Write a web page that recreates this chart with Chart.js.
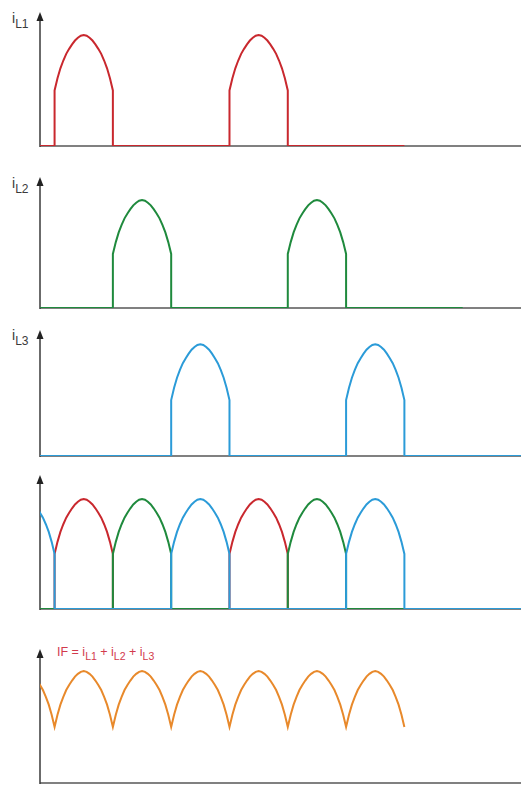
<!DOCTYPE html>
<html>
<head>
<meta charset="utf-8">
<script src="https://cdn.jsdelivr.net/npm/chart.js@4"></script>
<style>
  body { margin: 0; background: #fff; width: 521px; height: 790px; position: relative; overflow: hidden; font-family: "Liberation Sans", Arial, sans-serif; }
  canvas { position: absolute; left: 0; }
  .lbl { position: absolute; color: #3a3a3a; font-size: 14px; line-height: 1; white-space: nowrap; }
  .lbl sub { font-size: 12px; vertical-align: -5px; }
  .sum { color: #d23a4c; font-size: 12.5px; }
  .sum sub { font-size: 10.5px; vertical-align: -4px; }
</style>
</head>
<body>
<div class="lbl" style="left:12px;top:11px">i<sub>L1</sub></div>
<div class="lbl" style="left:12px;top:176px">i<sub>L2</sub></div>
<div class="lbl" style="left:12px;top:328px">i<sub>L3</sub></div>
<div class="lbl sum" style="left:57px;top:646px">IF = i<sub>L1</sub> + i<sub>L2</sub> + i<sub>L3</sub></div>

<canvas id="c1" width="521" height="147" style="top:5px"></canvas>
<canvas id="c2" width="521" height="144" style="top:170px"></canvas>
<canvas id="c3" width="521" height="139" style="top:323px"></canvas>
<canvas id="c4" width="521" height="147" style="top:468px"></canvas>
<canvas id="c5" width="521" height="147" style="top:642px"></canvas>

<script>
// one conduction pulse, read every 6 degrees over its 120 degree window
const arcShape = [0.5, 0.61, 0.70, 0.77, 0.83, 0.875, 0.915, 0.95, 0.975, 0.993, 1,
                  0.993, 0.975, 0.95, 0.915, 0.875, 0.83, 0.77, 0.70, 0.61, 0.5];
const arcStep = 6;

// pulse start angles (degrees) and where each trace stops
const pulsesL1 = [30, 390];
const pulsesL2 = [150, 510];
const pulsesL3 = [270, 630];
const pulsesL3Sum = [-90, 270, 630];
const pulsesIF = [-90, 30, 150, 270, 390, 510, 630];
const endL1 = 750;
const endL2 = 870;
const endL3 = 990;

const xMax = 990;
const red = '#c9282e';
const green = '#1f8a3d';
const blue = '#2b9bd8';
const orange = '#e8892b';

function pulseTrain(starts, end) {
    const pts = [];
    if (starts[0] > 0) pts.push({ x: 0, y: 0 });
    starts.forEach(s => {
        pts.push({ x: s, y: 0 });
        arcShape.forEach((v, i) => pts.push({ x: s + i * arcStep, y: v }));
        pts.push({ x: s + 120, y: 0 });
    });
    pts.push({ x: end, y: 0 });
    return pts;
}

function envelope(starts) {
    const pts = [];
    starts.forEach(s => {
        arcShape.forEach((v, i) => pts.push({ x: s + i * arcStep, y: v }));
    });
    return pts;
}

// y axis with arrow and plain x axis, drawn under the traces
const axesPlugin = {
    id: 'axes',
    beforeDatasetsDraw(chart) {
        const { ctx, chartArea } = chart;
        const x0 = chart.scales.x.getPixelForValue(0);
        const y0 = chart.scales.y.getPixelForValue(0);
        ctx.save();
        ctx.strokeStyle = '#808080';
        ctx.lineWidth = 2;
        ctx.beginPath();
        ctx.moveTo(x0, y0);
        ctx.lineTo(chart.width, y0);
        ctx.stroke();
        ctx.strokeStyle = '#3a3a3a';
        ctx.lineWidth = 1.5;
        ctx.beginPath();
        ctx.moveTo(x0, y0 + 1);
        ctx.lineTo(x0, chartArea.top + 4);
        ctx.stroke();
        ctx.fillStyle = '#222';
        ctx.beginPath();
        ctx.moveTo(x0, chartArea.top - 3);
        ctx.lineTo(x0 - 3.5, chartArea.top + 6);
        ctx.lineTo(x0 + 3.5, chartArea.top + 6);
        ctx.closePath();
        ctx.fill();
        ctx.restore();
    }
};

function makeChart(id, yMax, datasets) {
    return new Chart(document.getElementById(id), {
        type: 'line',
        data: {
            datasets: datasets.map(d => ({
                data: d.data,
                borderColor: d.color,
                borderWidth: 2,
                pointRadius: 0,
                tension: 0,
                fill: false
            }))
        },
        options: {
            responsive: false,
            animation: false,
            events: [],
            layout: { padding: { left: 40, right: 0, top: 10, bottom: 6 } },
            plugins: { legend: { display: false }, tooltip: { enabled: false } },
            scales: {
                x: { type: 'linear', min: 0, max: xMax, display: false },
                y: { min: 0, max: yMax, display: false }
            }
        },
        plugins: [axesPlugin]
    });
}

makeChart('c1', 1.18, [{ data: pulseTrain(pulsesL1, endL1), color: red }]);
makeChart('c2', 1.185, [{ data: pulseTrain(pulsesL2, endL2), color: green }]);
makeChart('c3', 1.10, [{ data: pulseTrain(pulsesL3, endL3), color: blue }]);
// first dataset ends up on top
makeChart('c4', 1.19, [
    { data: pulseTrain(pulsesL3Sum, endL3), color: blue },
    { data: pulseTrain(pulsesL2, endL2), color: green },
    { data: pulseTrain(pulsesL1, endL1), color: red }
]);
makeChart('c5', 1.17, [{ data: envelope(pulsesIF), color: orange }]);
</script>
</body>
</html>
